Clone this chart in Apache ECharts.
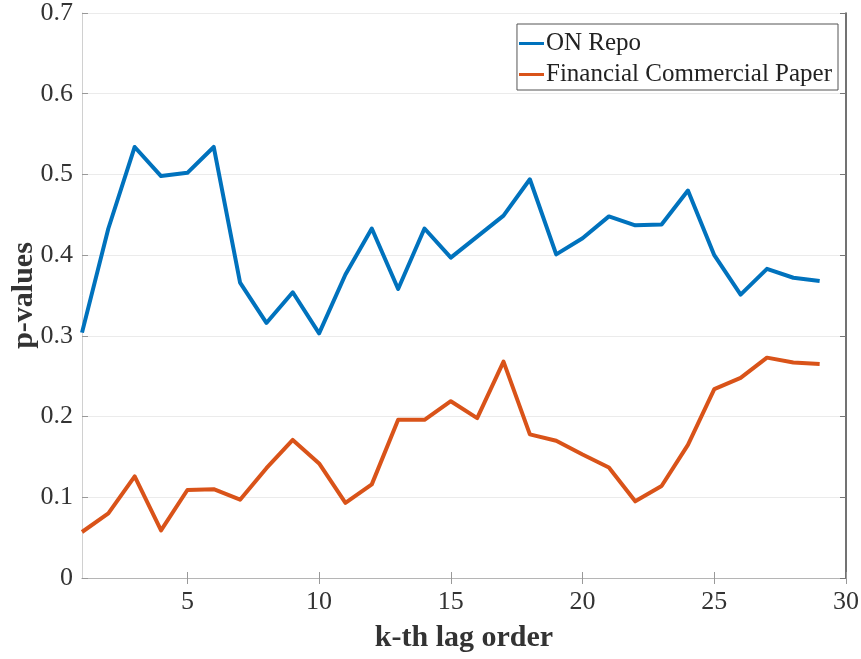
<!DOCTYPE html>
<html>
<head>
<meta charset="utf-8">
<title>p-values by lag order</title>
<script src="https://cdn.jsdelivr.net/npm/echarts@6/dist/echarts.min.js"></script>
<style>
  html, body { margin: 0; padding: 0; background: #fff; }
  #chart { width: 861px; height: 659px; }
</style>
</head>
<body>
<div id="chart"></div>
<script>
// Lag orders k = 1..29
const lags = [1, 2, 3, 4, 5, 6, 7, 8, 9, 10, 11, 12, 13, 14, 15, 16, 17, 18, 19, 20, 21, 22, 23, 24, 25, 26, 27, 28, 29];

// p-values for the ON Repo series
const onRepo = [0.304, 0.433, 0.534, 0.498, 0.502, 0.534, 0.366, 0.316, 0.354, 0.303,
                0.376, 0.433, 0.358, 0.433, 0.397, 0.423, 0.449, 0.494, 0.401, 0.421,
                0.448, 0.437, 0.438, 0.480, 0.400, 0.351, 0.383, 0.372, 0.368];

// p-values for the Financial Commercial Paper series
const finCP = [0.057, 0.080, 0.126, 0.059, 0.109, 0.110, 0.097, 0.136, 0.171, 0.142,
               0.093, 0.116, 0.196, 0.196, 0.219, 0.198, 0.268, 0.178, 0.170, 0.153,
               0.137, 0.095, 0.114, 0.165, 0.234, 0.248, 0.273, 0.267, 0.265];

const xTicks = [5, 10, 15, 20, 25, 30];
const seriesNames = ['ON Repo', 'Financial Commercial Paper'];
const serif = '"Liberation Serif", "Times New Roman", serif';

const chart = echarts.init(document.getElementById('chart'), null, { renderer: 'canvas' });

const pairs = (ys) => lags.map((k, i) => [k, ys[i]]);

chart.setOption({
  animation: false,
  backgroundColor: '#ffffff',
  grid: { left: 82, right: 15, top: 13, bottom: 81, containLabel: false, outerBoundsMode: 'none' },
  legend: {
    orient: 'vertical',
    right: 23,
    top: 24,
    padding: [7, 6, 3, 2],
    itemGap: 6,
    itemWidth: 25,
    itemHeight: 3,
    icon: 'rect',
    borderColor: '#555',
    borderWidth: 1,
    backgroundColor: '#fff',
    textStyle: { fontFamily: serif, fontSize: 25, color: '#222', padding: [0, 0, 0, -3] },
    data: seriesNames
  },
  xAxis: [
    {
      type: 'value', min: 1, max: 30, position: 'bottom',
      name: 'k-th lag order', nameLocation: 'middle', nameGap: 45, nameMoveOverlap: false,
      nameTextStyle: { fontFamily: serif, fontSize: 30, fontWeight: 'bold', color: '#333' },
      axisLine: { show: true, lineStyle: { color: '#c8c8c8', width: 1 } },
      axisTick: { show: true, inside: true, length: 6, customValues: xTicks, lineStyle: { color: '#999' } },
      axisLabel: { show: true, customValues: xTicks, margin: 11, fontFamily: serif, fontSize: 26, color: '#333' },
      splitLine: { show: false }
    },
    {
      type: 'value', min: 1, max: 30, position: 'top',
      axisLine: { show: true, lineStyle: { color: '#b5b5b5', width: 1 } },
      axisTick: { show: true, inside: true, length: 6, customValues: xTicks, lineStyle: { color: '#999' } },
      axisLabel: { show: false },
      splitLine: { show: false }
    }
  ],
  yAxis: [
    {
      type: 'value', min: 0, max: 0.7, interval: 0.1, position: 'left',
      name: 'p-values', nameLocation: 'middle', nameGap: 43, nameMoveOverlap: false,
      nameTextStyle: { fontFamily: serif, fontSize: 30, fontWeight: 'bold', color: '#333' },
      axisLine: { show: true, lineStyle: { color: '#d0d0d0', width: 1 } },
      axisTick: { show: true, inside: true, length: 6, lineStyle: { color: '#999' } },
      axisLabel: { margin: 9, fontFamily: serif, fontSize: 26, color: '#333',
                   formatter: (v) => (Math.round(v * 10) / 10).toString() },
      splitLine: { show: true, lineStyle: { color: '#ebebeb', width: 1 } }
    },
    {
      type: 'value', min: 0, max: 0.7, interval: 0.1, position: 'right',
      axisLine: { show: true, lineStyle: { color: '#444', width: 1.5 } },
      axisTick: { show: true, inside: true, length: 6, lineStyle: { color: '#777' } },
      axisLabel: { show: false },
      splitLine: { show: false }
    }
  ],
  series: [
    {
      name: seriesNames[0], type: 'line', data: pairs(onRepo),
      showSymbol: false, symbol: 'none',
      lineStyle: { color: '#0072BD', width: 4, join: 'round' },
      itemStyle: { color: '#0072BD' }
    },
    {
      name: seriesNames[1], type: 'line', data: pairs(finCP),
      showSymbol: false, symbol: 'none',
      lineStyle: { color: '#D95319', width: 4, join: 'round' },
      itemStyle: { color: '#D95319' }
    }
  ]
});
</script>
</body>
</html>
